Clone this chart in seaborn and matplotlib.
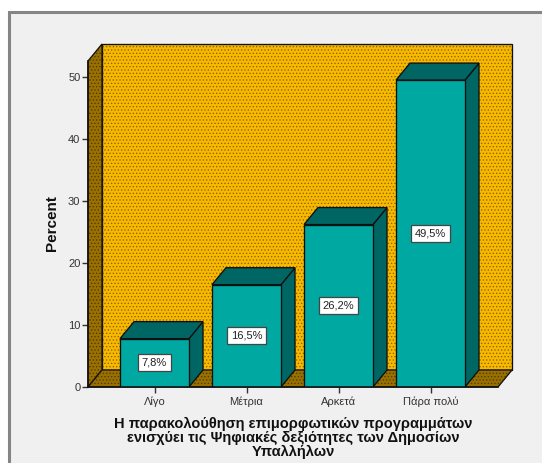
import matplotlib
matplotlib.use("Agg")
import matplotlib.pyplot as plt
from matplotlib.patches import Polygon, Rectangle
import seaborn as sns

# =========================================================
# DATA
# =========================================================
categories = ["Λίγο", "Μέτρια", "Αρκετά", "Πάρα πολύ"]
percent = [7.8, 16.5, 26.2, 49.5]
y_ticks = [0, 10, 20, 30, 40, 50]

x_title = (
    "Η παρακολούθηση επιμορφωτικών προγραμμάτων\n"
    "ενισχύει τις Ψηφιακές δεξιότητες των Δημοσίων\n"
    "Υπαλλήλων"
)

# =========================================================
# CONFIG
# =========================================================
W, H = 542, 463
PLOT_LEFT, PLOT_RIGHT = 88, 498
PLOT_TOP, PLOT_BOTTOM = 61, 387
PX_PER_CAT = 92
PX_PER_UNIT = 6.2
FIRST_CAT_PX = 154.5
DEPTH_X, DEPTH_Y = 14, 17

TEAL = "#00a8a2"
TEAL_DARK = "#006664"
WALL = "#f8b800"
WALL_DOT = "#8a6400"
SIDE = "#997000"
SIDE_DOT = "#4f3a00"
BG = "#f0f0f0"

sns.set_style("white")
plt.rcParams["font.family"] = ["Liberation Sans", "DejaVu Sans"]
plt.rcParams["hatch.linewidth"] = 0.55

fig = plt.figure(figsize=(W / 100, H / 100), dpi=100, facecolor="white")

# gray frame, open to the right and bottom edge of the image
fig.add_artist(Rectangle(
    (8.5 / W, -0.1), 1.1, 1.1 - 12.5 / H,
    transform=fig.transFigure,
    facecolor=BG, edgecolor="#858585", linewidth=2.2,
    zorder=-1
))

ax = fig.add_axes([
    PLOT_LEFT / W,
    1 - PLOT_BOTTOM / H,
    (PLOT_RIGHT - PLOT_LEFT) / W,
    (PLOT_BOTTOM - PLOT_TOP) / H
])
ax.patch.set_visible(False)

# =========================================================
# FRONT FACES
# =========================================================
sns.barplot(
    x=categories,
    y=percent,
    color=TEAL,
    saturation=1,
    width=0.75,
    edgecolor="#101010",
    linewidth=0.95,
    zorder=4,
    ax=ax
)

x_min = -(FIRST_CAT_PX - PLOT_LEFT) / PX_PER_CAT
x_max = x_min + (PLOT_RIGHT - PLOT_LEFT) / PX_PER_CAT
y_max = (PLOT_BOTTOM - PLOT_TOP) / PX_PER_UNIT
ax.set_xlim(x_min, x_max)
ax.set_ylim(0, y_max)

dx = DEPTH_X / PX_PER_CAT
dy = DEPTH_Y / PX_PER_UNIT


def box(points, face, dots=None, z=1):
    ax.add_patch(Polygon(
        points, closed=True, clip_on=False, zorder=z,
        facecolor=face, edgecolor="#101010", linewidth=0.95
    ))
    if dots:
        ax.add_patch(Polygon(
            points, closed=True, clip_on=False, zorder=z,
            facecolor="none", edgecolor=dots, linewidth=0, hatch="....."
        ))


# =========================================================
# BAR DEPTH AND VALUE LABELS
# =========================================================
bars = list(ax.patches[:len(percent)])

for bar, value in zip(bars, percent):
    x0 = bar.get_x()
    x1 = x0 + bar.get_width()
    box([(x1, 0), (x1 + dx, dy), (x1 + dx, value + dy), (x1, value)], TEAL_DARK, z=3)
    box([(x0, value), (x1, value), (x1 + dx, value + dy), (x0 + dx, value + dy)], TEAL_DARK, z=3)

    ax.text(
        (x0 + x1) / 2,
        value / 2,
        f"{value:.1f}%".replace(".", ","),
        ha="center",
        va="center",
        fontsize=8,
        color="#222222",
        zorder=5,
        bbox=dict(boxstyle="square,pad=0.32", facecolor="white", edgecolor="#444444", linewidth=0.9)
    )

# =========================================================
# BACK WALL, SIDE WALL, FLOOR
# =========================================================
box([(x_min + dx, dy), (x_max + dx, dy), (x_max + dx, y_max + dy), (x_min + dx, y_max + dy)], WALL, WALL_DOT)
box([(x_min, 0), (x_min + dx, dy), (x_min + dx, y_max + dy), (x_min, y_max)], SIDE, SIDE_DOT)
box([(x_min, 0), (x_max, 0), (x_max + dx, dy), (x_min + dx, dy)], SIDE, SIDE_DOT)

# =========================================================
# AXES
# =========================================================
sns.despine(ax=ax, top=True, right=True)
for side in ["left", "bottom"]:
    ax.spines[side].set_color("#101010")
    ax.spines[side].set_linewidth(1.1)
    ax.spines[side].set_zorder(6)

ax.set_yticks(y_ticks)
ax.tick_params(axis="y", left=True, length=4.5, width=1, color="#333333", labelsize=8, labelcolor="#333333", pad=1)
ax.tick_params(axis="x", bottom=True, length=4, width=1, color="#333333", labelsize=8, labelcolor="#333333", pad=3)

ax.set_ylabel("Percent", fontsize=11, fontweight="bold", color="#111111")
ax.yaxis.set_label_coords((59 - PLOT_LEFT) / (PLOT_RIGHT - PLOT_LEFT), (PLOT_BOTTOM - 223) / (PLOT_BOTTOM - PLOT_TOP))

ax.set_xlabel(x_title, fontsize=10.5, fontweight="bold", color="#111111", linespacing=1.0, labelpad=7)

plt.savefig("out.png", dpi=100)
